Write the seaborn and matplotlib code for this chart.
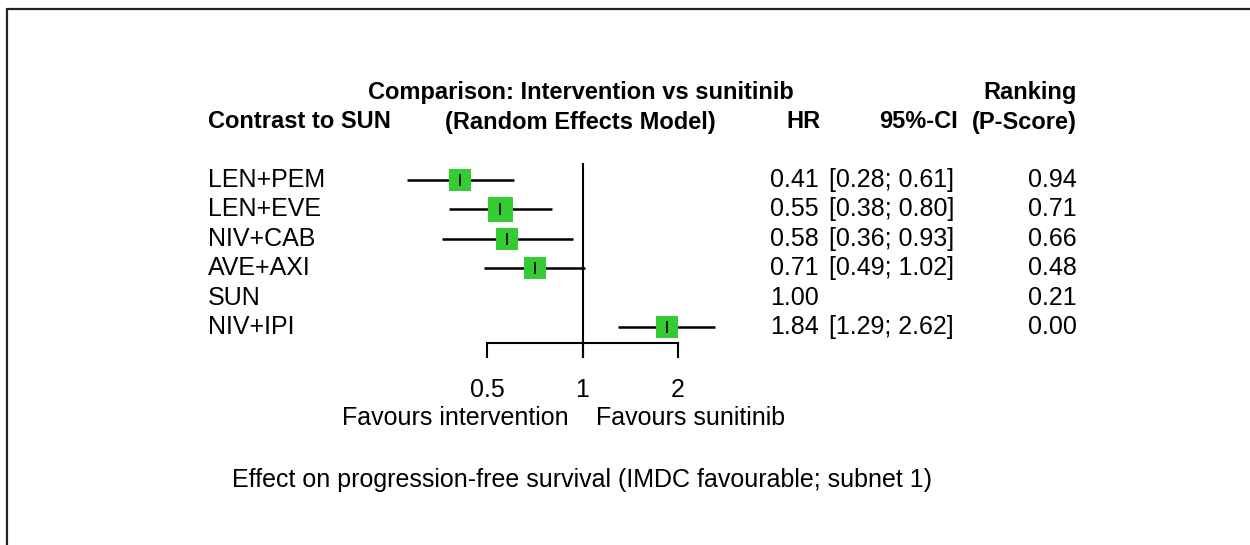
import matplotlib
matplotlib.use("Agg")
import matplotlib.pyplot as plt
import matplotlib.transforms as mtransforms
from matplotlib.lines import Line2D
import seaborn as sns
import pandas as pd

# Network meta-analysis results, contrasts to sunitinib (SUN)
treatments = ["LEN+PEM", "LEN+EVE", "NIV+CAB", "AVE+AXI", "SUN", "NIV+IPI"]
hr = [0.41, 0.55, 0.58, 0.71, 1.00, 1.84]
ci_lower = [0.28, 0.38, 0.36, 0.49, None, 1.29]
ci_upper = [0.61, 0.80, 0.93, 1.02, None, 2.62]
p_score = [0.94, 0.71, 0.66, 0.48, 0.21, 0.00]
box_size = [23, 25, 23, 23, 0, 22]

tick_values = [0.5, 1, 2]
tick_labels = ["0.5", "1", "2"]

sns.set_theme(style="white")
plt.rcParams["font.family"] = ["Liberation Sans", "DejaVu Sans"]

W, H = 1250, 545
fig = plt.figure(figsize=(W / 100, H / 100), dpi=100)
fig.patch.set_facecolor("white")

df = pd.DataFrame({"treatment": treatments, "hr": hr, "lo": ci_lower,
                   "hi": ci_upper, "pscore": p_score, "size": box_size})
df["row"] = range(len(df))

FS = 18.0

# forest panel placed in pixel units
x05, x2 = 487, 678
top_px, bot_px = 163, 358
row0_px, row_step = 180, 29.4
ax = fig.add_axes([x05 / W, 1 - bot_px / H, (x2 - x05) / W, (bot_px - top_px) / H])
ax.set_xscale("log")
ax.set_xlim(0.5, 2)
ax.set_ylim((bot_px - row0_px) / row_step, (top_px - row0_px) / row_step)
ax.patch.set_alpha(0)
for s in ["top", "right", "left"]:
    ax.spines[s].set_visible(False)

axis_row = (343 - row0_px) / row_step
ax.spines["bottom"].set_position(("data", axis_row))
ax.spines["bottom"].set_bounds(0.5, 2)
ax.spines["bottom"].set_linewidth(1.5)
ax.spines["bottom"].set_color("black")
ax.set_xticks(tick_values)
ax.set_xticklabels(tick_labels)
ax.minorticks_off()
ax.tick_params(axis="x", which="major", direction="out", length=11, width=1.5,
               color="black", bottom=True, labelsize=FS, labelcolor="black", pad=14)
ax.set_yticks([])
ax.axvline(1, color="black", lw=1.5, zorder=1)

ci = df.dropna()
ax.hlines(ci["row"], ci["lo"], ci["hi"], color="black", lw=1.8, zorder=2, clip_on=False)
sq = df[df["size"] > 0]
for _, r in sq.iterrows():
    ax.plot([r["hr"]], [r["row"]], marker="s", ms=r["size"] * 0.72,
            color="#33cc33", mec="#33cc33", mew=0, ls="none", zorder=3, clip_on=False)
    ax.plot([r["hr"]], [r["row"]], marker="|", ms=8, mew=1.3, color="black",
            ls="none", zorder=4, clip_on=False)

# text columns
def px(x, y, s, **kw):
    fig.text(x / W, 1 - y / H, s, **kw)

row_tf = mtransforms.blended_transform_factory(fig.transFigure, ax.transData)
body = dict(fontsize=FS, va="center", color="black")
for _, r in df.iterrows():
    ax.text(208 / W, r["row"], r["treatment"], transform=row_tf, ha="left", **body)
    ax.text(819 / W, r["row"], f"{r['hr']:.2f}", transform=row_tf, ha="right", **body)
    if pd.notna(r["lo"]):
        ax.text(954 / W, r["row"], f"[{r['lo']:.2f}; {r['hi']:.2f}]",
                transform=row_tf, ha="right", **body)
    ax.text(1077 / W, r["row"], f"{r['pscore']:.2f}", transform=row_tf, ha="right", **body)

head = dict(fontsize=17, fontweight="bold", va="center", color="black")
px(581, 93, "Comparison: Intervention vs sunitinib", ha="center", **head)
px(1077, 93, "Ranking", ha="right", **head)
px(208, 122, "Contrast to SUN", ha="left", **head)
px(580, 122, "(Random Effects Model)", ha="center", **head)
px(820, 122, "HR", ha="right", **head)
px(958, 122, "95%-CI", ha="right", **head)
px(1077, 122, "(P-Score)", ha="right", **head)

px(569, 418, "Favours intervention", ha="right", **body)
px(596, 418, "Favours sunitinib", ha="left", **body)
px(582, 480, "Effect on progression-free survival (IMDC favourable; subnet 1)",
   ha="center", **body)

# panel frame along the top and left edges
fig.add_artist(Line2D([7 / W, 1], [1 - 9 / H, 1 - 9 / H], transform=fig.transFigure,
                      color="#222222", lw=1.6))
fig.add_artist(Line2D([7 / W, 7 / W], [0, 1 - 9 / H], transform=fig.transFigure,
                      color="#222222", lw=1.6))

fig.savefig("out.png", dpi=100, facecolor="white")
